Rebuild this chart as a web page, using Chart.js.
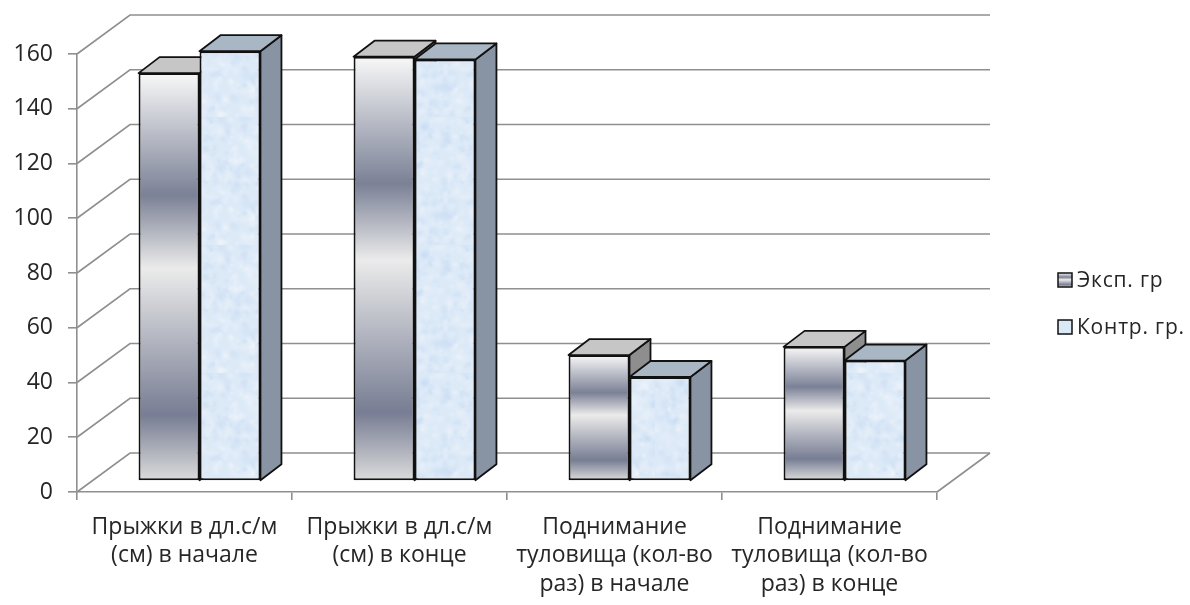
<!DOCTYPE html>
<html>
<head>
<meta charset="utf-8">
<script src="https://cdn.jsdelivr.net/npm/chart.js@4.4.1/dist/chart.umd.min.js"></script>
<style>
  html, body { margin: 0; padding: 0; background: #ffffff; }
  canvas { display: block; }
</style>
</head>
<body>
<canvas id="chart" width="1190" height="605"></canvas>
<script>
// Categories (multi-line axis labels)
const categories = [
  ['Прыжки в дл.с/м', '(см) в начале'],
  ['Прыжки в дл.с/м', '(см) в конце'],
  ['Поднимание', 'туловища (кол-во', 'раз) в начале'],
  ['Поднимание', 'туловища (кол-во', 'раз) в конце']
];
const seriesNames = ['Эксп. гр', 'Контр. гр.'];
const expValues = [149, 155, 46, 49];
const ctrlValues = [157, 154, 38, 44];
const yTickValues = [0, 20, 40, 60, 80, 100, 120, 140, 160];

// Styling
const FONT = "'Open Sans', 'Noto Sans', sans-serif";
const TEXT = '#262626';
const GRID = '#8f8f8f';
const WALL_DX = 53, WALL_DY = 39;   // depth of the back wall
const BAR_DX = 15, BAR_DY = 11;     // bars sit in the middle of the floor
const BOX_DX = 21, BOX_DY = 16;     // depth of each bar

const canvas = document.getElementById('chart');
const ctx2d = canvas.getContext('2d');

// Frosted light-blue texture for the control group
function makeFrost() {
  const c = document.createElement('canvas');
  c.width = c.height = 128;
  const g = c.getContext('2d');
  g.fillStyle = '#dce9f7';
  g.fillRect(0, 0, 128, 128);
  let s = 11;
  const rnd = () => (s = (s * 16807) % 2147483647) / 2147483647;
  for (let i = 0; i < 420; i++) {
    const x = rnd() * 128, y = rnd() * 128, r = 2 + rnd() * 6;
    const light = rnd() < 0.55;
    const grad = g.createRadialGradient(x, y, 0, x, y, r);
    grad.addColorStop(0, light ? 'rgba(255,255,255,0.22)' : 'rgba(170,202,238,0.18)');
    grad.addColorStop(1, light ? 'rgba(255,255,255,0)' : 'rgba(170,202,238,0)');
    g.fillStyle = grad;
    g.beginPath();
    g.arc(x, y, r, 0, Math.PI * 2);
    g.fill();
  }
  return ctx2d.createPattern(c, 'repeat');
}
const frost = makeFrost();

function metalGradient(c, top, base) {
  const g = c.createLinearGradient(0, top, 0, base);
  g.addColorStop(0, '#f8f8f8');
  g.addColorStop(0.3, '#7b8196');
  g.addColorStop(0.48, '#ebebeb');
  g.addColorStop(0.84, '#777d93');
  g.addColorStop(1, '#dcdcdc');
  return g;
}

const faceColors = [
  { top: '#c6c6c6', side: '#8e8e8e' },
  { top: '#a9b6c4', side: '#8894a3' }
];

// Back wall, left wall and floor outline
const wallsPlugin = {
  id: 'walls',
  beforeDatasetsDraw(chart) {
    const { ctx, chartArea: { left, right, bottom }, scales: { y } } = chart;
    ctx.save();
    ctx.strokeStyle = GRID;
    ctx.lineWidth = 1.6;
    yTickValues.forEach(v => {
      const py = y.getPixelForValue(v);
      ctx.beginPath();
      ctx.moveTo(left, py);
      ctx.lineTo(left + WALL_DX, py - WALL_DY);
      ctx.lineTo(right + WALL_DX, py - WALL_DY);
      ctx.stroke();
    });
    ctx.beginPath();
    ctx.moveTo(right, bottom);
    ctx.lineTo(right + WALL_DX, bottom - WALL_DY);
    ctx.stroke();
    ctx.restore();
  }
};

// Bars as boxes: front face by the bar element, plus top and side faces
const boxesPlugin = {
  id: 'boxes',
  beforeDatasetDraw() { return false; },
  afterDatasetsDraw(chart) {
    const ctx = chart.ctx;
    ctx.save();
    ctx.translate(BAR_DX, -BAR_DY);
    const n = categories.length;
    for (let i = 0; i < n; i++) {
      for (let d = 0; d < chart.data.datasets.length; d++) {
        const el = chart.getDatasetMeta(d).data[i];
        if (!el) continue;
        const { x, y, base, width } = el.getProps(['x', 'y', 'base', 'width'], true);
        const x0 = x - width / 2, x1 = x + width / 2;
        ctx.lineJoin = 'round';
        ctx.lineWidth = 1.8;
        ctx.strokeStyle = '#111';
        // side face
        ctx.beginPath();
        ctx.moveTo(x1, y);
        ctx.lineTo(x1 + BOX_DX, y - BOX_DY);
        ctx.lineTo(x1 + BOX_DX, base - BOX_DY);
        ctx.lineTo(x1, base);
        ctx.closePath();
        ctx.fillStyle = faceColors[d].side;
        ctx.fill();
        ctx.stroke();
        // top face
        ctx.beginPath();
        ctx.moveTo(x0, y);
        ctx.lineTo(x0 + BOX_DX, y - BOX_DY);
        ctx.lineTo(x1 + BOX_DX, y - BOX_DY);
        ctx.lineTo(x1, y);
        ctx.closePath();
        ctx.fillStyle = faceColors[d].top;
        ctx.fill();
        ctx.stroke();
        // front face
        if (d === 0) el.options.backgroundColor = metalGradient(ctx, y, base);
        el.draw(ctx);
      }
    }
    ctx.restore();
  }
};

// Legend on the right
const legendPlugin = {
  id: 'sideLegend',
  afterDraw(chart) {
    const ctx = chart.ctx;
    const items = [
      { name: seriesNames[0], y: 280 },
      { name: seriesNames[1], y: 327 }
    ];
    ctx.save();
    items.forEach((it, k) => {
      const bx = 1058, by = it.y - 7, s = 14;
      ctx.fillStyle = k === 0 ? metalGradient(ctx, by, by + s) : '#dbe8f6';
      ctx.fillRect(bx, by, s, s);
      ctx.lineWidth = 1.5;
      ctx.strokeStyle = '#111';
      ctx.strokeRect(bx, by, s, s);
      ctx.fillStyle = TEXT;
      ctx.font = `21px ${FONT}`;
      if ('letterSpacing' in ctx) ctx.letterSpacing = '0.8px';
      ctx.textBaseline = 'middle';
      ctx.textAlign = 'left';
      ctx.fillText(it.name, bx + 19, it.y + 1);
    });
    ctx.restore();
  }
};

new Chart(canvas, {
  type: 'bar',
  data: {
    labels: categories,
    datasets: [
      {
        label: seriesNames[0],
        data: expValues,
        backgroundColor: '#b0b4c0',
        borderColor: '#111',
        borderWidth: 2,
        borderSkipped: false
      },
      {
        label: seriesNames[1],
        data: ctrlValues,
        backgroundColor: frost,
        borderColor: '#111',
        borderWidth: 2,
        borderSkipped: false
      }
    ]
  },
  options: {
    responsive: false,
    devicePixelRatio: 1,
    animation: false,
    layout: { padding: { left: 0, top: 54, right: 253, bottom: 0 } },
    plugins: {
      legend: { display: false },
      tooltip: { enabled: false }
    },
    datasets: {
      bar: { categoryPercentage: 0.567, barPercentage: 1.0 }
    },
    scales: {
      x: {
        grid: { offset: true, drawOnChartArea: false, drawTicks: true, tickLength: 8, color: GRID, lineWidth: 1.6 },
        border: { display: true, color: GRID, width: 1.6 },
        ticks: {
          color: TEXT,
          font: { family: FONT, size: 23, lineHeight: 1.24 },
          padding: 13,
          maxRotation: 0,
          autoSkip: false
        },
        afterFit(scale) { scale.height = 113; }
      },
      y: {
        min: 0,
        max: 160,
        afterBuildTicks(scale) { scale.ticks = yTickValues.map(v => ({ value: v })); },
        grid: { drawOnChartArea: false, drawTicks: true, tickLength: 9, color: GRID, lineWidth: 1.6 },
        border: { display: true, color: GRID, width: 1.6 },
        ticks: {
          color: TEXT,
          font: { family: FONT, size: 23 },
          padding: 15
        },
        afterFit(scale) { scale.width = 77; }
      }
    }
  },
  plugins: [wallsPlugin, boxesPlugin, legendPlugin]
});
</script>
</body>
</html>
